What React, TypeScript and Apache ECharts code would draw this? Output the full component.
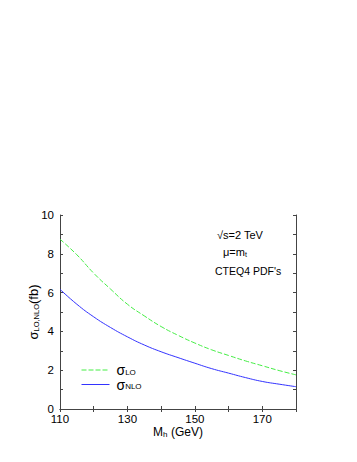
import React, { useEffect, useRef } from "react";
import * as echarts from "echarts";

const massValues = [110, 115, 120, 125, 130, 135, 140, 145, 150, 155, 160, 165, 170, 175, 180];
const sigmaLO = [8.75, 7.95, 7.0, 6.18, 5.4, 4.8, 4.25, 3.8, 3.4, 3.05, 2.76, 2.48, 2.23, 1.98, 1.76];
const sigmaNLO = [6.17, 5.4, 4.75, 4.2, 3.72, 3.3, 2.95, 2.65, 2.36, 2.08, 1.85, 1.62, 1.42, 1.28, 1.15];
const xTickLabels = [110, 130, 150, 170];
const yTickLabels = [0, 2, 4, 6, 8, 10];
const annotations = ["\u221As=2 TeV", "\u03BC=m_t", "CTEQ4 PDF's"];

const FONT = "Liberation Sans, Arial, Helvetica, sans-serif";
const AXIS_COLOR = "#444";

export default function App() {
  const ref = useRef<HTMLDivElement>(null);
  useEffect(() => {
    document.body.style.margin = "0";
    if (!ref.current) return;
    const chart = echarts.init(ref.current, null, { renderer: "svg" });
    const lo = massValues.map((m, i) => [m, sigmaLO[i]]);
    const nlo = massValues.map((m, i) => [m, sigmaNLO[i]]);
    const axisCommon = {
      axisLine: { show: true, lineStyle: { color: AXIS_COLOR, width: 1 } },
      axisTick: { show: true, inside: true, length: 3, lineStyle: { color: AXIS_COLOR } },
      splitLine: { show: false },
    };
    chart.setOption({
      animation: false,
      textStyle: { fontFamily: FONT },
      grid: { left: 60, right: 61, top: 215, bottom: 53 },
      legend: {
        orient: "vertical",
        left: 76,
        top: 358,
        itemWidth: 28,
        itemHeight: 10,
        itemGap: 0.5,
        data: ["LO", "NLO"],
        itemStyle: { opacity: 0 },
        lineStyle: { width: 1 },
        formatter: (name: string) => `{s|\u03C3}{b|${name}}`,
        textStyle: {
          color: "#000",
          fontFamily: FONT,
          padding: [0, 0, 0, 2],
          rich: {
            s: { fontSize: 14, lineHeight: 13, color: "#000", fontFamily: FONT },
            b: { fontSize: 8, lineHeight: 9, color: "#000", padding: [4, 0, 0, 0], fontFamily: FONT },
          },
        },
      },
      xAxis: [
        {
          type: "value",
          min: 110,
          max: 180,
          interval: 10,
          name: "{a|M}{b|h}{a| (GeV)}",
          nameLocation: "middle",
          nameGap: 17,
          nameMoveOverlap: false,
          nameTextStyle: {
            rich: {
              a: { fontSize: 12, lineHeight: 12, color: "#000", fontFamily: FONT },
              b: { fontSize: 8, lineHeight: 7, color: "#000", padding: [5, 0, 0, 0], fontFamily: FONT },
            },
          },
          ...axisCommon,
          axisLabel: {
            color: "#000",
            fontSize: 11.5,
            lineHeight: 10,
            margin: 5,
            formatter: (v: number) => (xTickLabels.includes(v) ? String(v) : ""),
          },
        },
        {
          type: "value",
          position: "top",
          min: 110,
          max: 180,
          interval: 10,
          ...axisCommon,
          axisLabel: { show: false },
        },
      ],
      yAxis: [
        {
          type: "value",
          min: 0,
          max: 10,
          interval: 1,
          name: "{a|\u03C3}{b|LO,NLO}{a|(fb)}",
          nameLocation: "middle",
          nameGap: 20,
          nameMoveOverlap: false,
          nameTextStyle: {
            rich: {
              a: { fontSize: 13, color: "#000", fontFamily: FONT },
              b: { fontSize: 7.5, color: "#000", padding: [6, 0, 0, 0], fontFamily: FONT },
            },
          },
          ...axisCommon,
          axisLabel: {
            color: "#000",
            fontSize: 11.5,
            lineHeight: 10,
            margin: 6,
            formatter: (v: number) => (yTickLabels.includes(v) ? String(v) : ""),
          },
        },
        {
          type: "value",
          position: "right",
          min: 0,
          max: 10,
          interval: 1,
          ...axisCommon,
          axisLabel: { show: false },
        },
      ],
      graphic: [
        {
          type: "text",
          left: 217,
          top: 229,
          style: { text: annotations[0], fontSize: 11, fill: "#000", fontFamily: FONT },
        },
        {
          type: "text",
          left: 223,
          top: 246,
          style: {
            text: "{a|\u03BC=m}{b|t}",
            fill: "#000",
            fontFamily: FONT,
            rich: {
              a: { fontSize: 11, fill: "#000", fontFamily: FONT },
              b: { fontSize: 7, fill: "#000", padding: [5, 0, 0, 0], fontFamily: FONT },
            },
          },
        },
        {
          type: "text",
          left: 215,
          top: 265,
          style: { text: annotations[2], fontSize: 10.5, fill: "#000", fontFamily: FONT },
        },
      ],
      series: [
        {
          name: "LO",
          type: "line",
          data: lo,
          smooth: true,
          symbol: "none",
          lineStyle: { color: "#44ee44", width: 1, type: [5, 2] },
          itemStyle: { color: "#44ee44" },
        },
        {
          name: "NLO",
          type: "line",
          data: nlo,
          smooth: true,
          symbol: "none",
          lineStyle: { color: "#3333ff", width: 1 },
          itemStyle: { color: "#3333ff" },
        },
      ],
    });
    return () => chart.dispose();
  }, []);
  return <div ref={ref} style={{ width: 357, height: 462 }} />;
}
